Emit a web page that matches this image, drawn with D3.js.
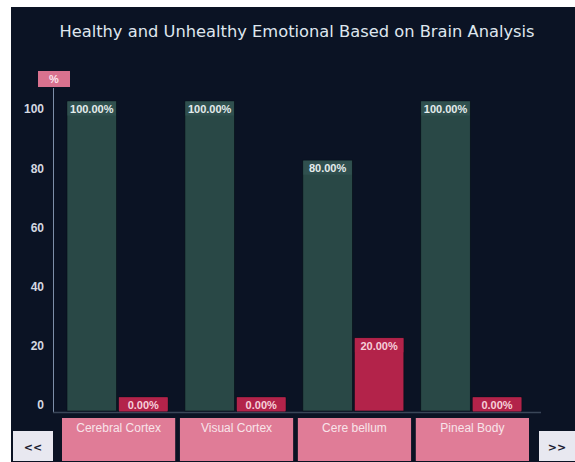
<!DOCTYPE html>
<html><head><meta charset="utf-8">
<script src="https://cdn.jsdelivr.net/npm/d3@7/dist/d3.min.js"></script>
<style>html,body{margin:0;padding:0;background:#fff;}svg{display:block;}</style>
</head><body>
<script>
const title = "Healthy and Unhealthy Emotional Based on Brain Analysis";
const categories = ["Cerebral Cortex", "Visual Cortex", "Cere bellum", "Pineal Body"];
const healthy = [100, 100, 80, 100];
const unhealthy = [0, 0, 20, 0];
const yTicks = [0, 20, 40, 60, 80, 100];
const unitLabel = "%";

const W = 575, H = 462;
const svg = d3.select("body").append("svg").attr("width", W).attr("height", H);

svg.append("rect").attr("x", 11).attr("y", 7).attr("width", W - 11).attr("height", H - 7).attr("fill", "#0b1324");

svg.append("text").attr("x", 297).attr("y", 37).attr("text-anchor", "middle")
  .attr("font-family", "DejaVu Sans, sans-serif").attr("font-size", 16.3).attr("fill", "#dfe6ee")
  .text(title);

const baseY = 411;
const y = d3.scaleLinear().domain([0, 100]).range([397, 101]);
const x = d3.scaleBand().domain(categories).range([62, 529]).paddingInner(0.04).paddingOuter(0);
const xs = d3.scaleBand().domain(["h", "u"]).range([5, 106]).paddingInner(0.04);

// unit box
svg.append("rect").attr("x", 38).attr("y", 71).attr("width", 32).attr("height", 16).attr("fill", "#d9728f");
svg.append("text").attr("x", 54).attr("y", 83).attr("text-anchor", "middle")
  .attr("font-family", "Liberation Sans, Arial, sans-serif").attr("font-weight", "bold").attr("font-size", 11)
  .attr("fill", "#fbe6ee").text(unitLabel);

// y axis
const yAxis = d3.axisLeft(y).tickValues(yTicks).tickSize(0).tickPadding(0).tickFormat(d3.format("d"));
const ga = svg.append("g").attr("transform", "translate(44,8)").call(yAxis);
ga.select(".domain").remove();
ga.selectAll("text").attr("font-family", "Liberation Sans, Arial, sans-serif").attr("font-weight", "bold")
  .attr("font-size", 12).attr("fill", "#d4d8e0");

svg.append("line").attr("x1", 53.5).attr("x2", 53.5).attr("y1", 88).attr("y2", baseY + 1)
  .attr("stroke", "#7d8ea8").attr("stroke-width", 1);
svg.append("line").attr("x1", 53).attr("x2", 541).attr("y1", baseY + 1.5).attr("y2", baseY + 1.5)
  .attr("stroke", "#3a4658").attr("stroke-width", 1.5);

const rows = categories.map((c, i) => ({c, h: healthy[i], u: unhealthy[i]}));
const groups = svg.selectAll("g.grp").data(rows).join("g").attr("class", "grp")
  .attr("transform", d => `translate(${x(d.c)},0)`);

function bars(key, fill, labelBg, txtFill) {
  groups.append("rect").attr("x", xs(key)).attr("width", xs.bandwidth())
    .attr("y", d => y(d[key])).attr("height", d => baseY - y(d[key]))
    .attr("fill", fill).attr("stroke", "#071018").attr("stroke-width", 0.6);
  groups.append("rect").attr("x", xs(key) + 0.5).attr("width", xs.bandwidth() - 1)
    .attr("y", d => y(d[key]) + 0.5).attr("height", 14).attr("fill", labelBg);
  groups.append("text").attr("x", xs(key) + xs.bandwidth() / 2).attr("y", d => y(d[key]) + 12)
    .attr("text-anchor", "middle").attr("font-family", "Liberation Sans, Arial, sans-serif")
    .attr("font-weight", "bold").attr("font-size", 11).attr("fill", txtFill)
    .text(d => d3.format(".2f")(d[key]) + "%");
}
bars("h", "#294846", "#30504f", "#e4ecec");
bars("u", "#b3234a", "#b3234a", "#f6d0da");

// category boxes
svg.selectAll("rect.cat").data(categories).join("rect").attr("class", "cat")
  .attr("x", d => x(d)).attr("width", x.bandwidth()).attr("y", 418).attr("height", 43).attr("fill", "#e07c97");
svg.selectAll("text.cat").data(categories).join("text").attr("class", "cat")
  .attr("x", d => x(d) + x.bandwidth() / 2).attr("y", 432).attr("text-anchor", "middle")
  .attr("font-family", "Liberation Sans, Arial, sans-serif").attr("font-size", 12).attr("fill", "#f8e4ea")
  .text(d => d);

// nav buttons
const nav = [{t: "<<", x: 13, w: 40}, {t: ">>", x: 539, w: 36}];
svg.selectAll("rect.nav").data(nav).join("rect").attr("class", "nav")
  .attr("x", d => d.x).attr("y", 431).attr("width", d => d.w).attr("height", 30).attr("fill", "#e8e8f0");
svg.selectAll("text.nav").data(nav).join("text").attr("class", "nav")
  .attr("x", d => d.x + d.w / 2).attr("y", 451).attr("text-anchor", "middle")
  .attr("font-family", "DejaVu Sans, sans-serif").attr("font-weight", "bold").attr("font-size", 11)
  .attr("fill", "#1a2030").text(d => d.t);
</script>
</body></html>
